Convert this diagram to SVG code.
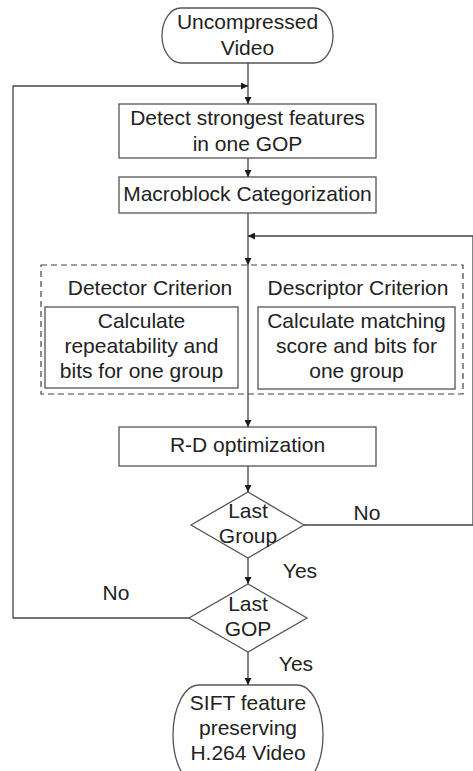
<svg xmlns="http://www.w3.org/2000/svg" width="473" height="771" viewBox="0 0 473 771">
<defs>
<marker id="ah" viewBox="0 0 10 10" refX="10" refY="5" markerWidth="7" markerHeight="7" markerUnits="userSpaceOnUse" orient="auto">
<path d="M0,0 L10,5 L0,10 Z" fill="#1a1a1a"/>
</marker>
<style>
.s{fill:#fff;stroke:#555;stroke-width:1.3}
.d{fill:none;stroke:#444;stroke-width:1.2;stroke-dasharray:6,4}
.c{fill:none;stroke:#444;stroke-width:1.3}
text{font-family:"Liberation Sans",Arial,sans-serif;font-size:21px;fill:#222;text-anchor:middle}
</style>
</defs>
<rect width="473" height="771" fill="#fff"/>
<g id="start"><rect class="s" x="162" y="8" width="171" height="55" rx="19" ry="27.5"/><text x="247.5" y="29">Uncompressed</text><text x="247.5" y="55">Video</text></g>
<g id="detect"><rect class="s" x="119" y="104" width="257" height="54"/><text x="247.5" y="125">Detect strongest features</text><text x="247.5" y="151">in one GOP</text></g>
<g id="macro"><rect class="s" x="119" y="177" width="257" height="36"/><text x="247.5" y="201">Macroblock Categorization</text></g>
<g id="criteria"><rect class="d" x="41" y="265" width="422" height="129"/></g>
<g id="detector"><text x="150" y="295">Detector Criterion</text><rect class="s" x="45" y="307" width="193" height="81"/><text x="141.5" y="328">Calculate</text><text x="141.5" y="353">repeatability and</text><text x="141.5" y="378">bits for one group</text></g>
<g id="descriptor"><text x="358" y="295">Descriptor Criterion</text><rect class="s" x="258" y="307" width="197" height="82"/><text x="356.5" y="328">Calculate matching</text><text x="356.5" y="353">score and bits for</text><text x="356.5" y="378">one group</text></g>
<g id="rd"><rect class="s" x="119" y="427" width="257" height="39"/><text x="247.5" y="452">R-D optimization</text></g>
<g id="lastgroup"><polygon class="s" points="248,492 304,525 248,558 191,525"/><text x="248" y="518">Last</text><text x="248" y="543">Group</text></g>
<g id="lastgop"><polygon class="s" points="248,584 307,618 248,652 189,618"/><text x="248" y="611">Last</text><text x="248" y="636">GOP</text></g>
<g id="end"><rect class="s" x="173" y="685" width="150" height="100" rx="26" ry="50"/><text x="248" y="710">SIFT feature</text><text x="248" y="735">preserving</text><text x="248" y="760">H.264 Video</text></g>
<g id="connectors">
<line class="c" x1="248" y1="63" x2="248" y2="104" marker-end="url(#ah)"/>
<polyline class="c" points="189,618 13,618 13,86 248,86" marker-end="url(#ah)"/>
<line class="c" x1="248" y1="158" x2="248" y2="177" marker-end="url(#ah)"/>
<line class="c" x1="248" y1="213" x2="248" y2="265" marker-end="url(#ah)"/>
<line class="c" x1="248" y1="265" x2="248" y2="427" marker-end="url(#ah)"/>
<polyline class="c" points="304,525 473,525 473,236 248,236" marker-end="url(#ah)"/>
<line class="c" x1="248" y1="466" x2="248" y2="492" marker-end="url(#ah)"/>
<line class="c" x1="248" y1="558" x2="248" y2="584" marker-end="url(#ah)"/>
<line class="c" x1="248" y1="652" x2="248" y2="685" marker-end="url(#ah)"/>
<text x="367" y="520">No</text>
<text x="300" y="578">Yes</text>
<text x="116" y="600">No</text>
<text x="296" y="671">Yes</text>
</g>
</svg>
